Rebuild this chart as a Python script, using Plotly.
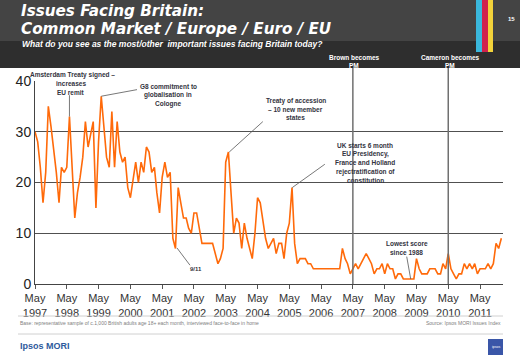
import pandas as pd
import plotly.graph_objects as go

# ---- data (monthly, May 1997 onwards) ----
start_month = "1997-05-01"
eu_values = [
    30, 28, 23, 16, 22, 35, 31, 27, 22, 16, 23, 22,   # May97-Apr98
    23, 33, 22, 13, 18, 21, 25, 32, 27, 30, 32, 15,   # May98-Apr99
    28, 37, 31, 25, 23, 34, 23, 32, 26, 24, 25, 19,   # May99-Apr00
    17, 21, 24, 20, 24, 22, 27, 26, 22, 23, 18, 14,   # May00-Apr01
    21, 24, 21, 22, 9, 7, 19, 16, 13, 13, 11, 10,     # May01-Apr02
    14, 14, 11, 8, 8, 8, 8, 8, 6, 4, 5, 7,            # May02-Apr03
    24, 26, 18, 10, 13, 12, 7, 12, 9, 7, 5, 10,       # May03-Apr04
    17, 16, 12, 9, 7, 8, 9, 6, 8, 8, 5, 10,           # May04-Apr05
    12, 19, 8, 4, 5, 5, 5, 4, 4, 3, 3, 3,             # May05-Apr06
    3, 3, 3, 3, 3, 3, 3, 3, 7, 5, 4, 2,               # May06-Apr07
    3, 4, 3, 4, 5, 6, 5, 4, 2, 3, 3, 4,               # May07-Apr08
    2, 4, 3, 3, 1, 2, 2, 1, 1, 1, 1, 1,               # May08-Apr09
    5, 3, 2, 2, 2, 3, 3, 3, 2, 2, 4, 3,               # May09-Apr10
    6, 3, 2, 1, 2, 2, 4, 3, 4, 3, 4, 2,               # May10-Apr11
    3, 3, 3, 4, 3, 4, 8, 7, 9,                        # May11-Jan12
]
months = pd.date_range(start_month, periods=len(eu_values), freq="MS")

tick_years = list(range(1997, 2012))
tick_dates = [pd.Timestamp(f"{y}-05-01") for y in tick_years]
tick_text = [f"May<br>{y}" for y in tick_years]
y_ticks = [0, 10, 20, 30, 40]

events = [("Brown becomes", "2007-05-01", 354), ("Cameron becomes", "2010-05-01", 450)]

# ---- helpers for pixel -> paper positions ----
L, R, T, B = 35, 503, 81, 284
def PX(x):
    return (x - L) / (R - L)
def PY(y):
    return (B - y) / (B - T)
def MD(m):
    return pd.Timestamp(start_month) + pd.Timedelta(days=m * 30.44)

fig = go.Figure()
fig.add_trace(go.Scatter(x=months, y=eu_values, mode="lines",
                         line=dict(color="#ff6a0a", width=1.6),
                         hoverinfo="x+y", showlegend=False))

shapes = []
# header
shapes.append(dict(type="rect", xref="paper", yref="paper", x0=PX(0), x1=PX(520),
                   y0=PY(41), y1=PY(0), fillcolor="#444444", line_width=0, layer="below"))
shapes.append(dict(type="rect", xref="paper", yref="paper", x0=PX(0), x1=PX(520),
                   y0=PY(68), y1=PY(41), fillcolor="#2e2e2e", line_width=0, layer="below"))
# colour stripes
for x0, x1, c in [(476, 482, "#3ab7dc"), (482, 488, "#d0204c"), (488, 493, "#f2d23a")]:
    shapes.append(dict(type="rect", xref="paper", yref="paper", x0=PX(x0), x1=PX(x1),
                       y0=PY(52), y1=PY(0), fillcolor=c, line_width=0))
# footer lines
for yy in (316, 334):
    shapes.append(dict(type="line", xref="paper", yref="paper", x0=PX(18), x1=PX(503),
                       y0=PY(yy), y1=PY(yy), line=dict(color="#d0d0d0", width=1)))
# logo
shapes.append(dict(type="rect", xref="paper", yref="paper", x0=PX(488), x1=PX(503),
                   y0=PY(355), y1=PY(339), fillcolor="#3a56a8", line_width=0))
# event vertical lines
for _, d, _x in events:
    shapes.append(dict(type="line", xref="x", yref="paper", x0=d, x1=d,
                       y0=0, y1=PY(68), line=dict(color="#707070", width=1.5)))
# callout lines (data coords)
callouts = [
    (13, 33, 13, 37.2),
    (25, 37, 38.5, 38.3),
    (73.3, 26, 86, 32),
    (97.1, 19, 109.4, 23.6),
    (53.6, 7.1, 58.5, 3.7),
    (141.8, 1.0, 140.3, 5.4),
]
for m0, v0, m1, v1 in callouts:
    shapes.append(dict(type="line", xref="x", yref="y", x0=MD(m0), x1=MD(m1),
                       y0=v0, y1=v1, line=dict(color="#555555", width=0.8)))

ann = []
def text(x, y, s, size, color, bold=True, italic=False, xa="center", ya="middle", font="Liberation Sans"):
    if bold:
        s = f"<b>{s}</b>"
    if italic:
        s = f"<i>{s}</i>"
    ann.append(dict(x=PX(x), y=PY(y), xref="paper", yref="paper", text=s, showarrow=False,
                    xanchor=xa, yanchor=ya, align="center" if xa == "center" else xa,
                    font=dict(size=size, color=color, family=font)))

text(19, 10.8, "Issues Facing Britain:", 15.2, "white", italic=True, xa="left", font="DejaVu Sans")
text(19, 28.6, "Common Market / Europe / Euro / EU", 15.2, "white", italic=True, xa="left", font="DejaVu Sans")
text(20, 44.5, "What do you see as the most/other  important issues facing Britain today?", 8.5, "white", italic=True, xa="left")
text(511, 19, "15", 6, "white")
for lbl, d, xx in events:
    text(xx, 57.5, lbl, 6.5, "white")
    text(xx, 65, "PM", 6.5, "white")

ac = "#333340"
lines_amst = ["Amsterdam Treaty signed –", "increases", "EU remit"]
for i, s in enumerate(lines_amst):
    text(72 if i == 0 else 71, 75 + i * 8.6, s, 6.5, ac)
for i, s in enumerate(["G8 commitment to", "globalisation in", "Cologne"]):
    text(168, 86.5 + i * 8.5, s, 6.5, ac)
for i, s in enumerate(["Treaty of accession", "– 10 new member", "states"]):
    text(295.5, 101 + i * 8.3, s, 6.5, ac)
for i, s in enumerate(["UK starts 6 month", "EU Presidency,", "France and Holland", "rejectratification of", "constitution"]):
    text(365, 145.7 + i * 8.6, s, 6.5, ac)
text(196, 269, "9/11", 6, ac)
text(406.5, 243.5, "Lowest score", 6.5, ac)
text(406.5, 252, "since 1988", 6.5, ac)

text(18, 323, "Base: representative sample of c.1,000 British adults age 18+ each month, interviewed face-to-face in home",
     5, "#808080", bold=False, xa="left")
text(503, 323, "Source: Ipsos MORI Issues Index", 5, "#808080", bold=False, xa="right")
text(18, 346, "Ipsos MORI", 9, "#2e5a9c", xa="left")
text(495.5, 347, "ipsos", 3.5, "white", bold=False)

fig.update_layout(
    width=520, height=359,
    margin=dict(l=L, r=520 - R, t=T, b=359 - B),
    paper_bgcolor="white", plot_bgcolor="white",
    shapes=shapes, annotations=ann,
    font=dict(family="Liberation Sans", color="#222222"),
    xaxis=dict(type="date", range=[start_month, "2012-01-20"], tickmode="array",
               tickvals=tick_dates, ticktext=tick_text, showgrid=False,
               ticks="outside", ticklen=4, tickcolor="#555555",
               showline=True, linecolor="#444444", linewidth=1,
               tickfont=dict(size=11, color="#333333"), zeroline=False),
    yaxis=dict(range=[0, 40], tickmode="array", tickvals=y_ticks, showgrid=True,
               gridcolor="#505050", gridwidth=1, showline=True, linecolor="#444444",
               linewidth=1, zeroline=False, tickfont=dict(size=14, color="#222222"),
               ticks=""),
)

fig.write_html("out.html", config={"displayModeBar": False},
               post_script="document.body.style.margin='0';document.body.style.overflow='hidden';")
